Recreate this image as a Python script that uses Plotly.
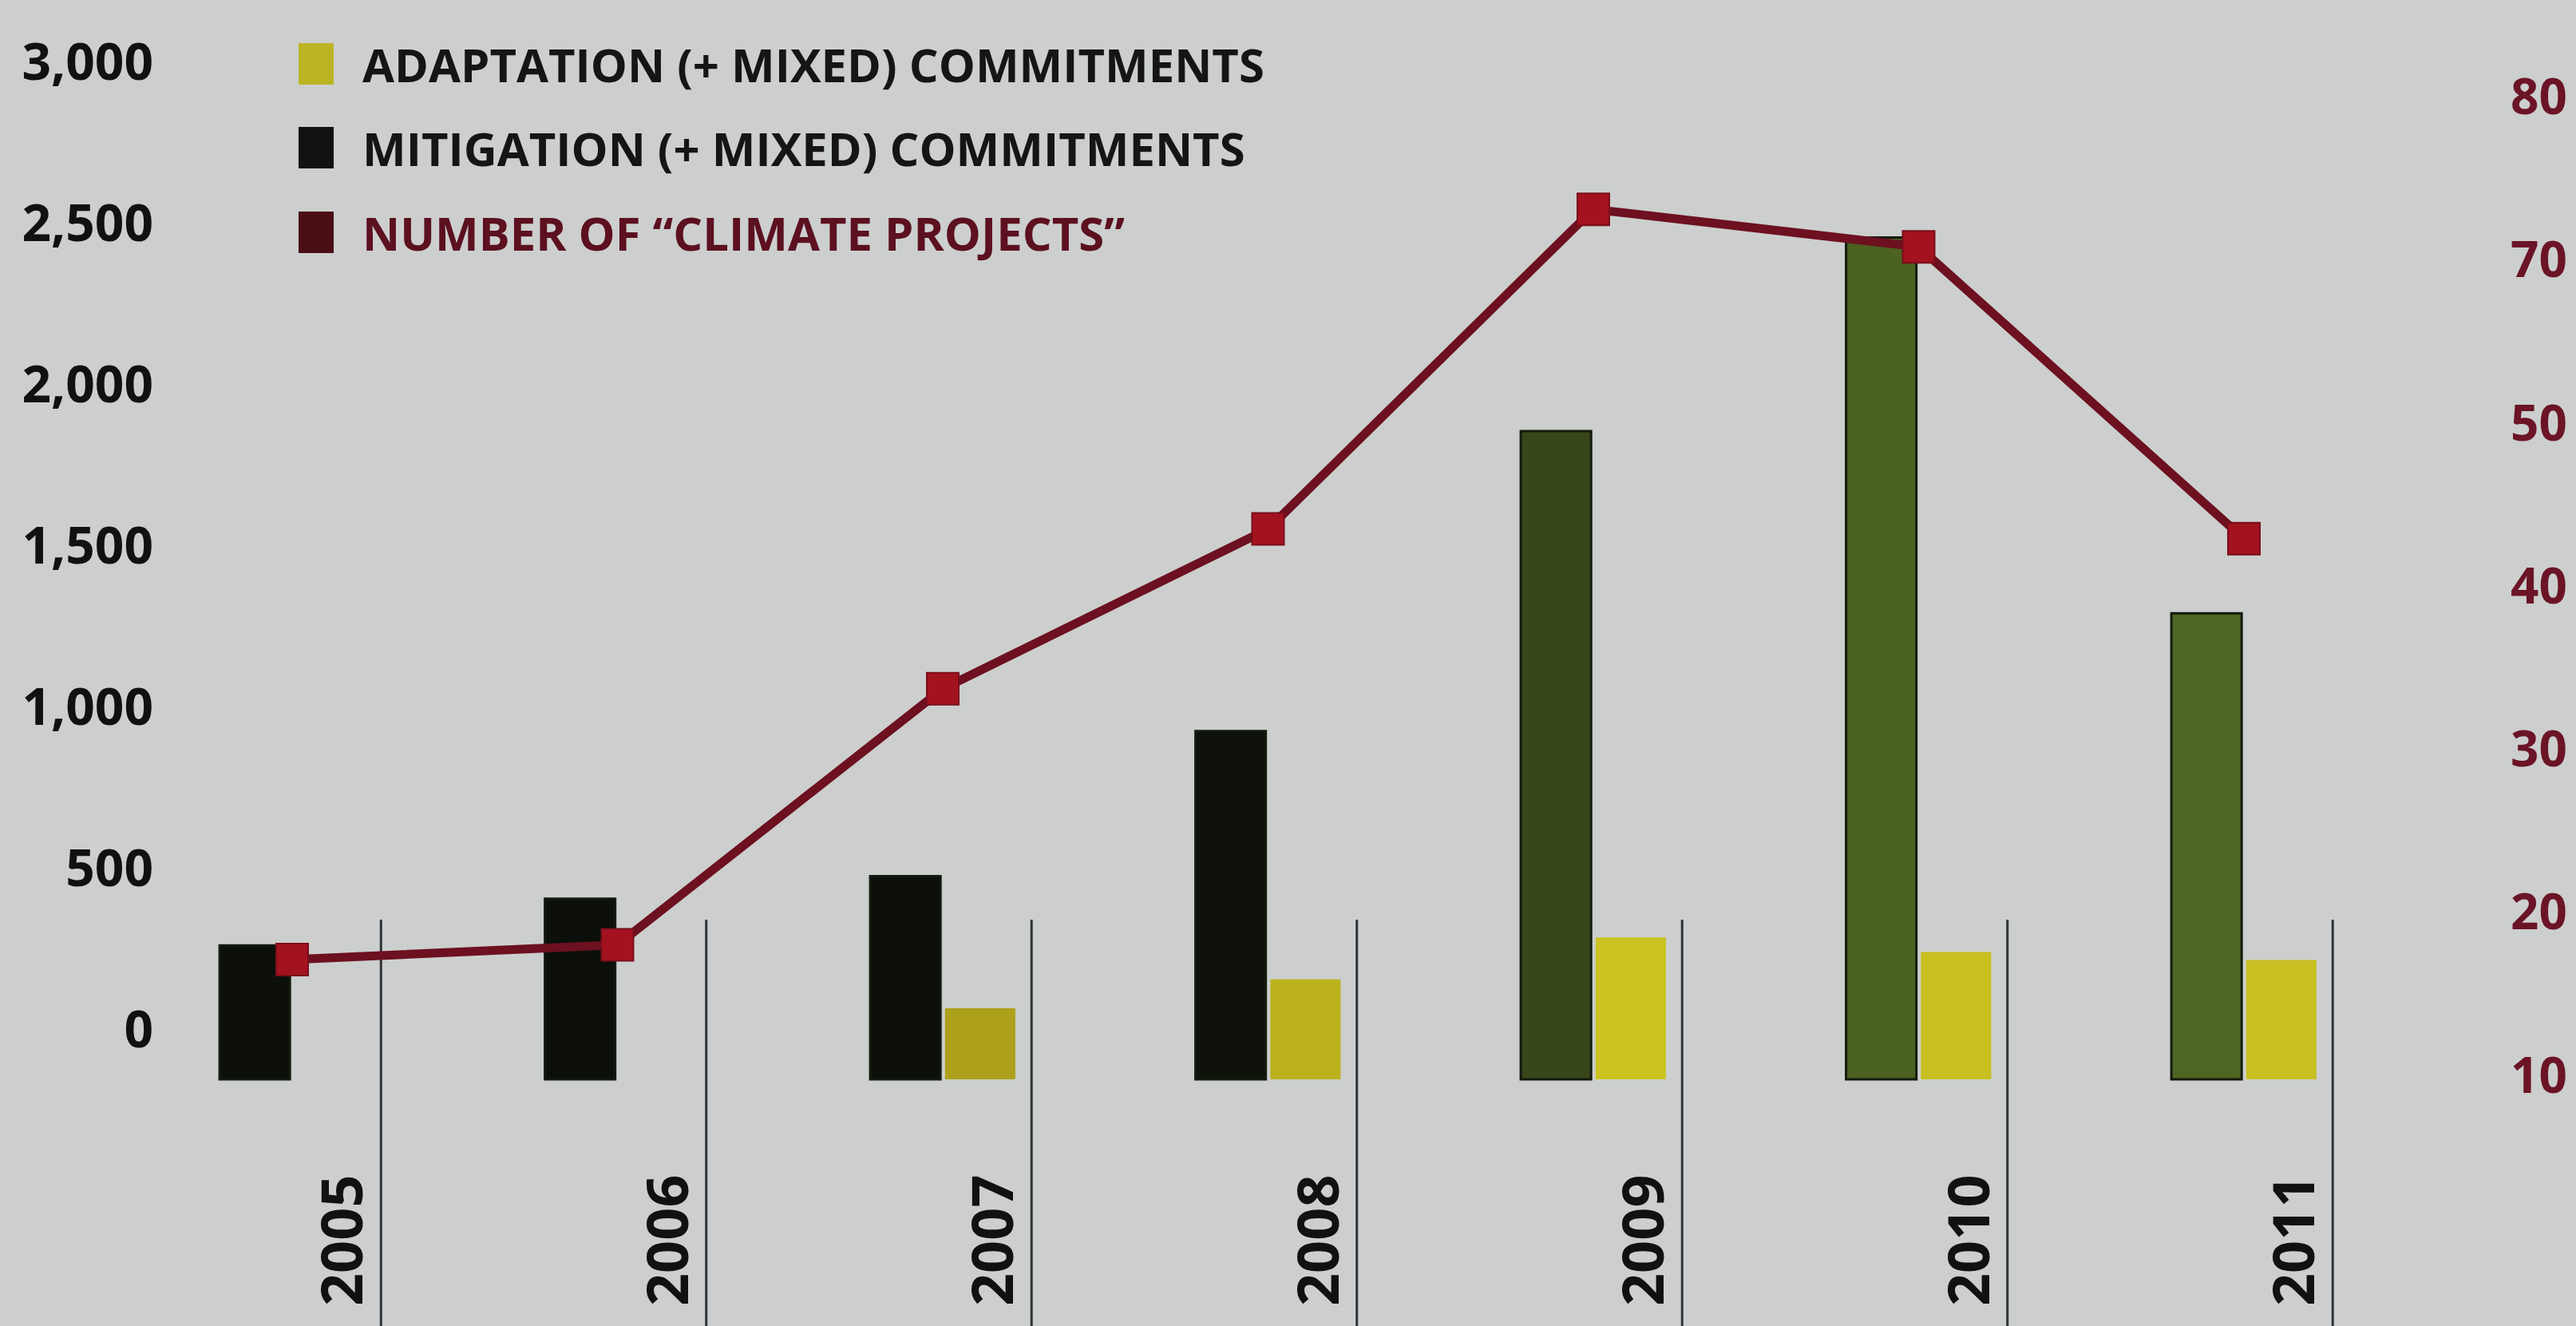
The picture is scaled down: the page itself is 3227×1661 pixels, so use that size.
import plotly.graph_objects as go

# ---------------- data ----------------
YEARS = [2005, 2006, 2007, 2008, 2009, 2010, 2011]
YEAR_LABELS = ["2005", "2006", "2007", "2008", "2009", "2010", "2011"]
MITIGATION = [415, 560, 630, 1080, 2010, 2610, 1445]
ADAPTATION = [None, None, 220, 310, 440, 395, 370]
# number of climate projects, in units of the right axis as drawn
CLIMATE_PROJECTS = [17.1, 18.0, 33.7, 43.5, 63.1, 60.8, 42.9]

LEFT_TICKS = [0, 500, 1000, 1500, 2000, 2500, 3000]
RIGHT_TICKS = [10, 20, 30, 40, 50, 60, 70]
RIGHT_TICK_LABELS = ["10", "20", "30", "40", "50", "70", "80"]  # as printed

SERIES_NAMES = ["ADAPTATION (+ MIXED) COMMITMENTS",
                "MITIGATION (+ MIXED) COMMITMENTS",
                "NUMBER OF “CLIMATE PROJECTS”"]

# ---------------- styles ----------------
BG = "#cccfce"
MIT_COLORS = ["#0c0f0a", "#0c0f0a", "#0c0f0a", "#0e120b", "#38471a", "#4b6220", "#4f6522"]
ADA_COLORS = ["#c4b91c", "#c4b91c", "#ada01a", "#bdb11d", "#ccc222", "#c8bf20", "#c8bf22"]
LINE_COLOR = "#6d1020"
MARKER_COLOR = "#a3131f"
SWATCH_COLORS = ["#bcb523", "#101210", "#4a0d16"]
LEGEND_TEXT_COLORS = ["#151515", "#151515", "#5c1020"]
NUM_FONT = "Open Sans, DejaVu Sans, sans-serif"
LEG_FONT = "Open Sans, sans-serif"

W_FIG, H_FIG = 3227, 1661
L, R, T, B = 215, 3140, 60, 1400
PW, PH = R - L, B - T

def pxx(p):
    return (p - L) / PW

def pxy(p):
    return (B - p) / PH

fig = go.Figure()

fig.add_trace(go.Bar(
    x=YEARS, y=MITIGATION, name=SERIES_NAMES[1],
    marker=dict(color=MIT_COLORS, line=dict(color="#141a0e", width=3)),
    showlegend=False,
))
fig.add_trace(go.Bar(
    x=YEARS, y=ADAPTATION, name=SERIES_NAMES[0],
    marker=dict(color=ADA_COLORS, line=dict(width=0)),
    showlegend=False,
))
fig.add_trace(go.Scatter(
    x=YEARS, y=CLIMATE_PROJECTS, name=SERIES_NAMES[2], yaxis="y2",
    mode="lines+markers",
    line=dict(color=LINE_COLOR, width=11),
    marker=dict(symbol="square", size=40, color=MARKER_COLOR,
                line=dict(color="#7a0f1a", width=2)),
    showlegend=False,
))

# year separators
shapes = []
for yr in YEARS:
    shapes.append(dict(
        type="line", xref="x", yref="paper",
        x0=yr + 0.273, x1=yr + 0.273,
        y0=pxy(1152), y1=pxy(1700),
        line=dict(color="#2e3338", width=3),
        layer="below",
    ))

# custom legend swatches + text
annotations = []
row_centers = [80, 185, 291]
for i, name in enumerate(SERIES_NAMES):
    cy = row_centers[i]
    shapes.append(dict(
        type="rect", xref="paper", yref="paper",
        x0=pxx(374), x1=pxx(418), y0=pxy(cy + 26), y1=pxy(cy - 26),
        fillcolor=SWATCH_COLORS[i], line=dict(width=0),
    ))
    annotations.append(dict(
        xref="paper", yref="paper", x=pxx(452), y=pxy(cy),
        xanchor="left", yanchor="middle", showarrow=False,
        text=name,
        font=dict(family=LEG_FONT, size=58, color=LEGEND_TEXT_COLORS[i], weight="bold"),
    ))

fig.update_layout(
    width=W_FIG, height=H_FIG,
    margin=dict(l=L, r=W_FIG - R, t=T, b=H_FIG - B, pad=0),
    paper_bgcolor=BG, plot_bgcolor=BG,
    barmode="group", bargap=0.54, bargroupgap=0.06,
    shapes=shapes, annotations=annotations,
    xaxis=dict(
        range=[2005 - (366 - L) / 407.5, 2005 + (R - 366) / 407.5],
        tickvals=YEARS, ticktext=YEAR_LABELS,
        tickangle=-90, ticks="", showgrid=False, zeroline=False, showline=False,
        tickfont=dict(family=NUM_FONT, size=72, color="#111111", weight="bold"),
        ticklabelshift=65, ticklabelstandoff=56, automargin=False,
    ),
    yaxis=dict(
        range=[-(B - 1352) / 0.404, (1352 - T) / 0.404],
        tickvals=LEFT_TICKS, tickformat=",",
        ticks="", showgrid=False, zeroline=False, showline=False,
        tickfont=dict(family=NUM_FONT, size=64, color="#111111", weight="bold"),
        ticklabelshift=-62, ticklabelstandoff=22, automargin=False,
    ),
    yaxis2=dict(
        overlaying="y", side="right",
        range=[10 - (B - 1347) / 20.43, 10 + (1347 - T) / 20.43],
        tickvals=RIGHT_TICKS, ticktext=RIGHT_TICK_LABELS,
        ticks="", showgrid=False, zeroline=False, showline=False,
        tickfont=dict(family=NUM_FONT, size=62, color="#6b1426", weight="bold"),
        ticklabelstandoff=4, automargin=False,
    ),
)

fig.write_html("out.html")
